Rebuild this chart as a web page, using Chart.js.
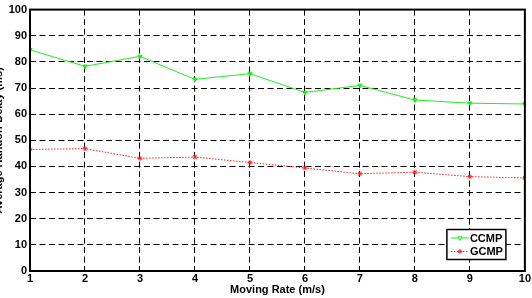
<!DOCTYPE html>
<html>
<head>
<meta charset="utf-8">
<script src="https://cdn.jsdelivr.net/npm/chart.js@4/dist/chart.umd.min.js"></script>
<style>
  body { margin: 0; background: #fff; }
  canvas { display: block; }
</style>
</head>
<body>
<canvas id="chart" width="532" height="298"></canvas>
<script>
const movingRate = [1, 2, 3, 4, 5, 6, 7, 8, 9, 10];
const ccmpDelay = [84.6, 78.3, 82.1, 73.3, 75.5, 68.3, 71.0, 65.4, 64.2, 63.9];
const gcmpDelay = [46.5, 46.8, 43.1, 43.6, 41.5, 39.4, 37.2, 37.8, 36.1, 35.6];

const FONT = '"Liberation Sans", Arial, Helvetica, sans-serif';

// black box round the plot area + legend inside (MATLAB style)
const boxAndLegend = {
    id: 'boxAndLegend',
    afterDraw(chart) {
        const ctx = chart.ctx;
        const a = chart.chartArea;
        ctx.save();
        ctx.setLineDash([]);
        ctx.strokeStyle = '#000';
        ctx.lineWidth = 2;
        ctx.strokeRect(a.left, a.top, a.right - a.left, a.bottom - a.top);

        // legend
        const w = 59, h = 30;
        const x = a.right - 19 - w, y = a.bottom - 11.5 - h;
        ctx.fillStyle = '#fff';
        ctx.fillRect(x, y, w, h);
        ctx.lineWidth = 1.5;
        ctx.strokeRect(x, y, w, h);
        ctx.font = 'bold 11px ' + FONT;
        ctx.textBaseline = 'middle';
        chart.data.datasets.forEach((ds, i) => {
            const ly = y + 8.5 + i * 13.5;
            ctx.strokeStyle = ds.borderColor;
            ctx.lineWidth = 1;
            ctx.setLineDash(ds.borderDash || []);
            ctx.beginPath();
            ctx.moveTo(x + 4, ly);
            ctx.lineTo(x + 22, ly);
            ctx.stroke();
            ctx.setLineDash([]);
            Chart.helpers.drawPoint(ctx, {
                pointStyle: ds.pointStyle,
                radius: ds.pointRadius,
                rotation: ds.pointRotation || 0,
                borderWidth: 1
            }, x + 13, ly);
            ctx.fillStyle = '#000';
            ctx.fillText(ds.label, x + 23, ly + 0.5);
        });
        ctx.restore();
    }
};

new Chart(document.getElementById('chart'), {
    type: 'line',
    data: {
        labels: movingRate,
        datasets: [
            {
                label: 'CCMP',
                data: movingRate.map((r, i) => ({ x: r, y: ccmpDelay[i] })),
                borderColor: '#22ee22',
                backgroundColor: '#22ee22',
                borderWidth: 1,
                pointStyle: 'triangle',
                pointRotation: 180,
                pointRadius: 2.5,
                pointBorderWidth: 1
            },
            {
                label: 'GCMP',
                data: movingRate.map((r, i) => ({ x: r, y: gcmpDelay[i] })),
                borderColor: '#ff2020',
                backgroundColor: '#ff2020',
                borderWidth: 1,
                borderDash: [1.5, 1.5],
                pointStyle: 'star',
                pointRadius: 2.5,
                pointBorderWidth: 1
            }
        ]
    },
    options: {
        responsive: false,
        animation: false,
        devicePixelRatio: 1,
        layout: { autoPadding: false, padding: { left: 0, top: 6, right: 6, bottom: 0 } },
        plugins: { legend: { display: false }, tooltip: { enabled: false } },
        scales: {
            x: {
                type: 'linear',
                min: 1, max: 10,
                afterFit(scale) { scale.height = 27; },
                ticks: { stepSize: 1, color: '#000', padding: 1, maxRotation: 0,
                         font: { family: FONT, size: 11, weight: 'bold' } },
                grid: { color: '#000', lineWidth: 1, drawTicks: false },
                border: { display: false, dash: [6, 3.5] },
                title: { display: true, text: 'Moving Rate (m/s)', color: '#000',
                         padding: { top: 0, bottom: 1.5 },
                         font: { family: FONT, size: 11, weight: 'bold' } }
            },
            y: {
                min: 0, max: 100,
                afterFit(scale) { scale.width = 30; },
                ticks: { stepSize: 10, color: '#000', padding: 3,
                         font: { family: FONT, size: 11, weight: 'bold' } },
                grid: { color: '#000', lineWidth: 1, drawTicks: false },
                border: { display: false, dash: [6, 3.5] },
                title: { display: true, text: 'Average Handoff Delay (ms)', color: '#000',
                         padding: { top: -8, bottom: 0 },
                         font: { family: FONT, size: 11, weight: 'bold' } }
            }
        }
    },
    plugins: [boxAndLegend]
});
</script>
</body>
</html>
